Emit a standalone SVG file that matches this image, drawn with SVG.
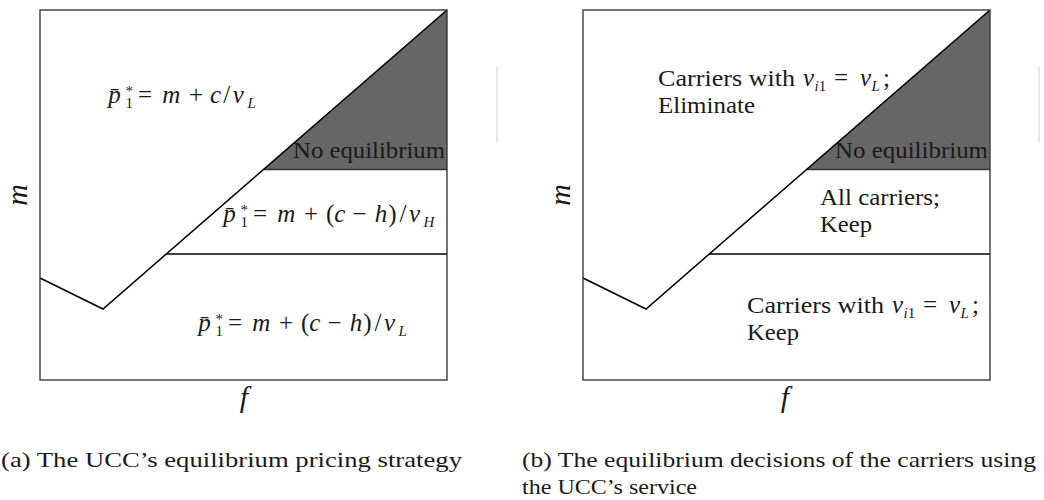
<svg xmlns="http://www.w3.org/2000/svg" width="1044" height="500" viewBox="0 0 1044 500">
<style>
.bg{fill:#fff}
.frame{fill:none;stroke:#3a3a3a;stroke-width:1.4}
.ln{fill:none;stroke:#000;stroke-width:1.5;stroke-linejoin:miter}
.sep{fill:none;stroke:#333;stroke-width:1.3}
.gray{fill:#666}
.vline{stroke:#d0d0d0;stroke-width:1}
.t{font-family:"Liberation Serif","Times New Roman",serif;font-size:23px;fill:#1a1a1a}
.mth{font-family:"Liberation Serif","Times New Roman",serif;font-size:25px;fill:#1a1a1a}
.cap{font-family:"Liberation Serif","Times New Roman",serif;font-size:22px;fill:#1a1a1a}
.ax{font-family:"Liberation Serif","Times New Roman",serif;font-size:30px;font-style:italic;fill:#1a1a1a;text-anchor:middle}
.i{font-style:italic}
.sm{font-size:15px}
.mid{text-anchor:middle}
</style>
<rect class="bg" x="0" y="0" width="1044" height="500"/>

<g id="panel-a">
  <g id="a-no-eq-region">
    <polygon class="gray" points="447,10 263.5,169.5 447,169.5"/>
  </g>
  <g id="a-connectors">
    <line class="sep" x1="263.5" y1="169.5" x2="447" y2="169.5"/>
    <line class="ln" x1="166.3" y1="254" x2="447" y2="254"/>
    <polyline class="ln" points="40,278 103,309 447,10"/>
  </g>
  <rect id="a-frame" class="frame" x="40" y="10" width="407" height="370"/>
  <g id="a-label-top">
    <text class="mth" y="103">
      <tspan class="i mid" x="117.5">p̄</tspan>
      <tspan class="sm" x="125.5" y="96">*</tspan>
      <tspan class="sm" x="125.5" y="108">1</tspan>
      <tspan class="mid" x="148.1" y="103">=</tspan>
      <tspan class="i mid" x="174.3">m</tspan>
      <tspan class="mid" x="199.2">+</tspan>
      <tspan class="i mid" x="218.8">c</tspan>
      <tspan class="mid" x="229.9">/</tspan>
      <tspan class="i mid" x="241.5">v</tspan>
      <tspan class="i sm" x="247.5" y="108">L</tspan>
    </text>
  </g>
  <g id="a-label-noeq">
    <text class="t" x="293" y="158" textLength="152" lengthAdjust="spacingAndGlyphs">No equilibrium</text>
  </g>
  <g id="a-label-mid">
    <text class="mth" y="222">
      <tspan class="i mid" x="232.5">p̄</tspan>
      <tspan class="sm" x="240.5" y="215">*</tspan>
      <tspan class="sm" x="240.5" y="227">1</tspan>
      <tspan class="mid" x="263.1" y="222">=</tspan>
      <tspan class="i mid" x="289.3">m</tspan>
      <tspan class="mid" x="314.2">+</tspan>
      <tspan class="mid" x="333.3">(</tspan>
      <tspan class="i mid" x="343">c</tspan>
      <tspan class="mid" x="362.7">−</tspan>
      <tspan class="i mid" x="384">h</tspan>
      <tspan class="mid" x="395.5">)</tspan>
      <tspan class="mid" x="406">/</tspan>
      <tspan class="i mid" x="417.7">v</tspan>
      <tspan class="i sm" x="423.5" y="227">H</tspan>
    </text>
  </g>
  <g id="a-label-bottom">
    <text class="mth" y="331">
      <tspan class="i mid" x="207.5">p̄</tspan>
      <tspan class="sm" x="215.5" y="324">*</tspan>
      <tspan class="sm" x="215.5" y="336">1</tspan>
      <tspan class="mid" x="238.1" y="331">=</tspan>
      <tspan class="i mid" x="264.3">m</tspan>
      <tspan class="mid" x="289.2">+</tspan>
      <tspan class="mid" x="308.3">(</tspan>
      <tspan class="i mid" x="318">c</tspan>
      <tspan class="mid" x="337.7">−</tspan>
      <tspan class="i mid" x="359">h</tspan>
      <tspan class="mid" x="370.5">)</tspan>
      <tspan class="mid" x="381">/</tspan>
      <tspan class="i mid" x="392.7">v</tspan>
      <tspan class="i sm" x="398.5" y="336">L</tspan>
    </text>
  </g>
  <text class="ax" transform="translate(27,195) rotate(-90)">m</text>
  <text class="ax" x="244" y="407">f</text>
  <line class="vline" x1="497" y1="67" x2="497" y2="143"/>
  <text class="cap" x="1" y="467" textLength="461" lengthAdjust="spacingAndGlyphs">(a)  The UCC’s equilibrium pricing strategy</text>
</g>

<g id="panel-b">
  <g id="b-no-eq-region">
    <polygon class="gray" points="990,10 806.5,169.5 990,169.5"/>
  </g>
  <g id="b-connectors">
    <line class="sep" x1="806.5" y1="169.5" x2="990" y2="169.5"/>
    <line class="ln" x1="709.3" y1="254" x2="990" y2="254"/>
    <polyline class="ln" points="583,278 646,309 990,10"/>
  </g>
  <rect id="b-frame" class="frame" x="583" y="10" width="407" height="370"/>
  <g id="b-label-top">
    <text class="t" x="658" y="86" textLength="137" lengthAdjust="spacingAndGlyphs">Carriers with</text>
    <text class="mth" y="86">
      <tspan class="i" x="803">v</tspan>
      <tspan class="sm" x="814.5" y="91"><tspan class="i">i</tspan>1</tspan>
      <tspan class="mid" x="844.3" y="86">=</tspan>
      <tspan class="i" x="860.1">v</tspan>
      <tspan class="i sm" x="871.6" y="91">L</tspan>
      <tspan x="882.9" y="86">;</tspan>
    </text>
    <text class="t" x="658" y="113" textLength="97" lengthAdjust="spacingAndGlyphs">Eliminate</text>
  </g>
  <g id="b-label-noeq">
    <text class="t" x="835" y="158" textLength="153" lengthAdjust="spacingAndGlyphs">No equilibrium</text>
  </g>
  <g id="b-label-mid">
    <text class="t" x="820" y="205" textLength="120" lengthAdjust="spacingAndGlyphs">All carriers;</text>
    <text class="t" x="820" y="232" textLength="52" lengthAdjust="spacingAndGlyphs">Keep</text>
  </g>
  <g id="b-label-bottom">
    <text class="t" x="747" y="313" textLength="137" lengthAdjust="spacingAndGlyphs">Carriers with</text>
    <text class="mth" y="313">
      <tspan class="i" x="892">v</tspan>
      <tspan class="sm" x="903.5" y="318"><tspan class="i">i</tspan>1</tspan>
      <tspan class="mid" x="933.3" y="313">=</tspan>
      <tspan class="i" x="949.1">v</tspan>
      <tspan class="i sm" x="960.6" y="318">L</tspan>
      <tspan x="971.9" y="313">;</tspan>
    </text>
    <text class="t" x="747" y="340" textLength="52" lengthAdjust="spacingAndGlyphs">Keep</text>
  </g>
  <text class="ax" transform="translate(570,195) rotate(-90)">m</text>
  <text class="ax" x="785" y="407">f</text>
  <line class="vline" x1="1039" y1="67" x2="1039" y2="143"/>
  <text class="cap" x="522" y="467" textLength="514" lengthAdjust="spacingAndGlyphs">(b)  The equilibrium decisions of the carriers using</text>
  <text class="cap" x="522" y="494" textLength="175" lengthAdjust="spacingAndGlyphs">the UCC’s service</text>
</g>
</svg>
